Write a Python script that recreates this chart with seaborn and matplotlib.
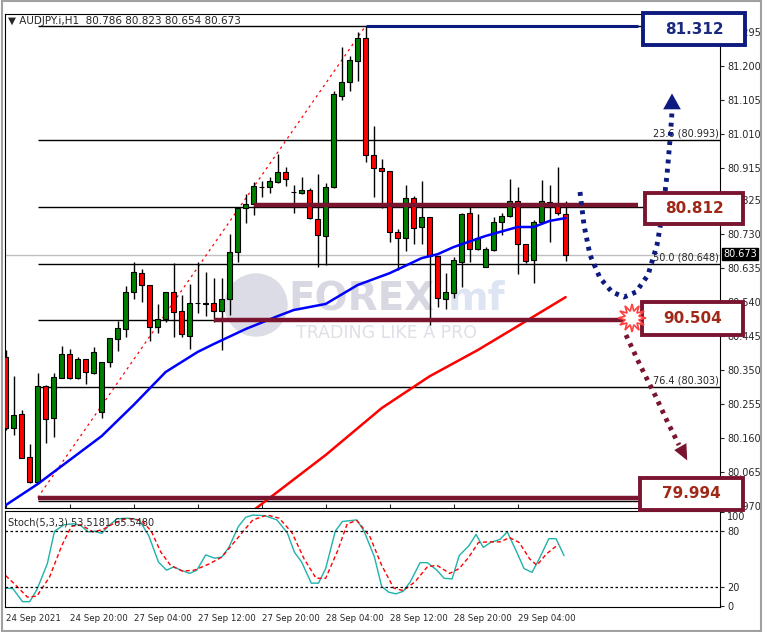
import numpy as np
import pandas as pd
import seaborn as sns
import matplotlib.pyplot as plt
from matplotlib.patches import Rectangle, Polygon, Ellipse

# Candle data, AUDJPY H1, one bar per hour starting 24 Sep 12:00
opens = [80.387, 80.188, 80.227, 80.107, 80.037, 80.306, 80.216, 80.328, 80.395, 80.328,
         80.381, 80.342, 80.233, 80.373, 80.437, 80.465, 80.568, 80.621, 80.588, 80.470,
         80.493, 80.568, 80.515, 80.445, 80.537, 80.537, 80.537, 80.515, 80.549, 80.680,
         80.803, 80.814, 80.861, 80.861, 80.876, 80.903, 80.848, 80.845, 80.853, 80.772,
         80.725, 80.861, 81.116, 81.155, 81.214, 81.278, 80.951, 80.915, 80.906, 80.736,
         80.719, 80.831, 80.750, 80.778, 80.669, 80.549, 80.565, 80.652, 80.789, 80.688,
         80.638, 80.686, 80.764, 80.781, 80.822, 80.702, 80.658, 80.764, 80.820, 80.817,
         80.786]
highs = [80.406, 80.333, 80.238, 80.143, 80.342, 80.308, 80.342, 80.417, 80.409, 80.387,
         80.381, 80.415, 80.373, 80.440, 80.487, 80.585, 80.652, 80.632, 80.588, 80.535,
         80.568, 80.649, 80.560, 80.591, 80.652, 80.624, 80.607, 80.607, 80.730, 80.806,
         80.842, 80.875, 80.878, 80.889, 80.954, 80.917, 80.867, 80.889, 80.859, 80.898,
         80.873, 81.130, 81.253, 81.228, 81.295, 81.312, 81.032, 80.940, 80.906, 80.744,
         80.867, 80.836, 80.878, 80.778, 80.669, 80.621, 80.666, 80.789, 80.806, 80.786,
         80.694, 80.778, 80.789, 80.884, 80.861, 80.702, 80.769, 80.881, 80.867, 80.917,
         80.823]
lows = [80.183, 80.169, 80.104, 80.035, 80.032, 80.146, 80.163, 80.328, 80.325, 80.325,
        80.311, 80.339, 80.216, 80.359, 80.403, 80.442, 80.549, 80.540, 80.431, 80.454,
        80.484, 80.442, 80.442, 80.409, 80.509, 80.501, 80.484, 80.406, 80.504, 80.652,
        80.761, 80.783, 80.834, 80.845, 80.873, 80.864, 80.789, 80.842, 80.772, 80.638,
        80.644, 80.859, 81.105, 81.130, 81.158, 80.931, 80.834, 80.803, 80.708, 80.630,
        80.683, 80.702, 80.702, 80.476, 80.526, 80.521, 80.551, 80.582, 80.652, 80.686,
        80.638, 80.683, 80.727, 80.778, 80.618, 80.649, 80.593, 80.761, 80.708, 80.783,
        80.654]
closes = [80.188, 80.225, 80.104, 80.037, 80.306, 80.213, 80.331, 80.395, 80.328, 80.381,
          80.345, 80.401, 80.373, 80.440, 80.468, 80.568, 80.624, 80.588, 80.470, 80.493,
          80.568, 80.512, 80.451, 80.537, 80.538, 80.535, 80.515, 80.549, 80.680, 80.803,
          80.814, 80.864, 80.862, 80.878, 80.903, 80.884, 80.847, 80.853, 80.775, 80.727,
          80.861, 81.121, 81.155, 81.216, 81.278, 80.951, 80.915, 80.906, 80.736, 80.719,
          80.831, 80.747, 80.778, 80.669, 80.551, 80.568, 80.658, 80.786, 80.688, 80.719,
          80.688, 80.764, 80.781, 80.822, 80.702, 80.655, 80.764, 80.822, 80.814, 80.789,
          80.673]

# moving averages (bar index, price)
ma_blue_bar = [0, 4, 8, 12, 16, 20, 24, 26, 30, 34, 36, 40, 44, 48, 52, 54, 56, 60, 64, 66, 68, 70]
ma_blue = [79.973, 80.032, 80.099, 80.166, 80.253, 80.345, 80.401, 80.423, 80.465, 80.501, 80.518,
           80.535, 80.588, 80.621, 80.663, 80.674, 80.694, 80.725, 80.750, 80.750, 80.767, 80.775]
ma_red_bar = [31, 40, 47, 53, 59, 64, 70]
ma_red = [79.959, 80.113, 80.244, 80.333, 80.406, 80.473, 80.554]

# fibonacci levels
fib_levels = [81.312, 80.993, 80.805, 80.648, 80.491, 80.303, 79.984]
fib_labels = {80.993: "23.6 (80.993)", 80.648: "50.0 (80.648)", 80.303: "76.4 (80.303)"}

# stochastic (5,3,3)
stoch_k_bar = [0, 0.9, 2.1, 3.0, 3.9, 5.2, 6.1, 7.3, 8.5, 9.4, 10.3, 11.2, 12, 12.8, 13.9, 15.2,
               16.7, 17.9, 19.1, 20.1, 21, 21.9, 23, 23.9, 25, 26.1, 27, 27.9, 29.1, 30, 30.9,
               32.4, 33.9, 35.2, 36.1, 37, 38.2, 39.1, 40, 41.2, 42.1, 43.9, 44.8, 46.1, 47,
               47.9, 48.8, 49.7, 50.6, 51.8, 52.7, 53.9, 54.8, 55.8, 56.7, 57.9, 58.8, 59.7,
               60.6, 61.8, 62.7, 63.9, 64.8, 65.8, 66.7, 67.9, 68.8, 69.8]
stoch_k = [19.3, 18.6, 4.7, 4.7, 17.6, 45.3, 80, 86.9, 88, 85.9, 79.3, 80, 77.6, 85.2, 93.2, 93.9,
           92.1, 74.8, 47, 38.4, 41.8, 38.4, 34.9, 38.4, 54.7, 51.2, 52.3, 62.7, 85.2, 94.9, 97.3,
           96.6, 92.1, 78.3, 57.5, 47, 24.5, 24.5, 40.1, 80, 90.4, 92.1, 80, 52.3, 21, 14.8,
           13.1, 15.8, 26.2, 46.4, 46.4, 38.4, 29.7, 29, 54, 64.4, 76.5, 62.7, 67.9, 71.3,
           79.3, 57.5, 40.1, 36, 50.5, 72, 72, 54]
stoch_d_bar = [0, 1.2, 2.7, 3.9, 5.5, 7, 8.2, 9.4, 10.9, 12.1, 13.6, 15.2, 17, 18.2, 19.4, 20.6,
               22.1, 23.6, 25.5, 27, 28.2, 29.7, 30.9, 32.7, 34.2, 35.8, 37.3, 38.8, 40, 41.5,
               42.7, 43.9, 45.5, 47, 48.5, 49.7, 51.2, 52.7, 53.9, 55.5, 56.7, 57.9, 59.1, 60.3,
               61.8, 63, 64.2, 65.5, 66.4, 67.6, 69.1]
stoch_d = [32.5, 22.8, 9.6, 10.6, 31.4, 64.4, 85.2, 86.9, 79.3, 81.7, 88.7, 93.9, 91.4, 80, 57.5,
           43.6, 37.3, 38.4, 45.3, 52.3, 64.4, 80, 92.1, 97.3, 93.9, 78.3, 50.5, 29.7, 29.7, 59.2,
           88, 91.4, 74.8, 43.6, 19.3, 16.5, 26.2, 41.8, 43.6, 34.9, 40.1, 52.3, 67.9, 68.6, 68.6,
           73.1, 67.9, 50.5, 43.6, 55.7, 66.1]

price_ticks = [79.970, 80.065, 80.160, 80.255, 80.350, 80.445, 80.540, 80.635, 80.730,
               80.825, 80.915, 81.010, 81.105, 81.200, 81.295]
time_ticks = [0, 8, 16, 24, 32, 40, 48, 56, 64]
time_labels = ["24 Sep 2021", "24 Sep 20:00", "27 Sep 04:00", "27 Sep 12:00", "27 Sep 20:00",
               "28 Sep 04:00", "28 Sep 12:00", "28 Sep 20:00", "29 Sep 04:00"]

last_price = 80.673
zones = [(81.312, 45, "#0d1a80"), (80.812, 31, "#7a1530"),
         (80.491, 26, "#7a1530"), (79.994, 4, "#7a1530")]

sns.set_style("white")
plt.rcParams['font.family'] = ['DejaVu Sans']

W, H = 763, 632
fig = plt.figure(figsize=(W / 100, H / 100), dpi=100)
fig.patch.set_facecolor("white")


def fx(px):
    return px / W


def fy(py):
    return 1 - py / H


XL = (-0.09, 89.3)
ax = fig.add_axes([fx(5), fy(508), fx(715), 494 / H])
ax2 = fig.add_axes([fx(5), fy(607), fx(715), 96 / H])
ax.patch.set_alpha(0)

ax.set_xlim(*XL)
ax.set_ylim(79.965, 81.345)

idx = np.arange(len(opens))
o, h, l, c = map(np.array, (opens, highs, lows, closes))
ax.vlines(idx, l, h, color="black", lw=1, zorder=3)
up = c >= o
body_h = np.maximum(np.abs(c - o), 0.0015)
ax.bar(idx, body_h, bottom=np.minimum(o, c), width=0.62,
       color=np.where(up, "#008000", "#ff0000"), edgecolor="black", lw=0.8, zorder=4)

# watermark
fig.patches.append(Ellipse((fx(256), fy(305)), 62 / W, 62 / H, transform=fig.transFigure,
                           color="#dcdce6", zorder=-1))
fig.text(fx(288), fy(299), "FOREX", fontsize=28, fontweight="bold", color="#d8d8e2",
         va="center", zorder=-1)
fig.text(fx(448), fy(299), "mf", fontsize=28, fontweight="bold", color="#dde4f2",
         va="center", zorder=-1)
fig.text(fx(296), fy(333), "TRADING LIKE A PRO", fontsize=12.5, color="#dfdfe7",
         va="center", zorder=-1)

# fib lines
for lv in fib_levels:
    ax.hlines(lv, 4, XL[1], color="black", lw=1, zorder=2)
    if lv in fib_labels:
        ax.text(89.1, lv + 0.004, fib_labels[lv], ha="right", va="bottom", fontsize=7, zorder=5)
ax.plot([4, 45], [79.994, 81.312], ls=(0, (2, 3)), color="red", lw=0.9, zorder=2)
ax.axhline(last_price, color="#c0c0c0", lw=1, zorder=1)

sns.lineplot(x=ma_blue_bar, y=ma_blue, ax=ax, color="#0000ff", lw=1.8, zorder=5)
sns.lineplot(x=ma_red_bar, y=ma_red, ax=ax, color="#ff0000", lw=1.8, zorder=5)

for lv, start, col in zones:
    ax.hlines(lv, start, 79.0, color=col, lw=3.2 if col != "#0d1a80" else 2.2, zorder=6)

ax.yaxis.tick_right()
ax.set_yticks(price_ticks)
ax.set_yticklabels([f"{t:.3f}" for t in price_ticks], fontsize=7)
ax.tick_params(axis="y", length=3, pad=2, direction="out", right=True)
ax.set_xticks(time_ticks)
ax.tick_params(axis="x", length=3, bottom=True, labelbottom=False, direction="in")
for s in ax.spines.values():
    s.set_color("black")
    s.set_linewidth(0.8)
ax.text(0.004, 0.995, "\u25bc AUDJPY.i,H1  80.786 80.823 80.654 80.673", transform=ax.transAxes,
        fontsize=7.5, va="top", ha="left")

# current price tag
fig.text(fx(723), fy(254), "80.673", fontsize=7, color="white", va="center", ha="left",
         bbox=dict(boxstyle="square,pad=0.15", fc="black", ec="black"), zorder=10)

# stochastic panel
ax2.set_xlim(*XL)
ax2.set_ylim(-1, 101.6)
sns.lineplot(x=stoch_k_bar, y=stoch_k, ax=ax2, color="#20b2aa", lw=1)
sns.lineplot(x=stoch_d_bar, y=stoch_d, ax=ax2, color="red", lw=1, ls=(0, (3, 2)))
for lv in (80, 20):
    ax2.axhline(lv, color="black", lw=0.9, ls=(0, (2, 2)))
ax2.yaxis.tick_right()
ax2.set_yticks([0, 20, 80, 100])
ax2.set_yticklabels(["0", "20", "80", "100"], fontsize=7)
ax2.get_yticklabels()[-1].set_va("top")
ax2.tick_params(axis="y", length=3, pad=2)
ax2.set_xticks(time_ticks)
ax2.set_xticklabels(time_labels, fontsize=6.2, ha="left")
ax2.tick_params(axis="x", length=3, pad=2)
for s in ax2.spines.values():
    s.set_color("black")
    s.set_linewidth(0.8)
ax2.text(0.004, 0.93, "Stoch(5,3,3) 53.5181 65.5480", transform=ax2.transAxes, fontsize=7,
         va="top")

# annotation boxes
boxes = [(643, 13, 102, 32, "81.312", "#0d1a80", "#1a2a80"),
         (645, 193, 98, 31, "80.812", "#7a1530", "#a02818"),
         (642, 302, 101, 33, "90.504", "#7a1530", "#a02818"),
         (640, 478, 103, 32, "79.994", "#7a1530", "#a02818")]
for bx, by, bw, bh, txt, ec, tc in boxes:
    fig.patches.append(Rectangle((fx(bx), fy(by + bh)), bw / W, bh / H, transform=fig.transFigure,
                                 fc="white", ec=ec, lw=2.8, zorder=10))
    fig.text(fx(bx + bw / 2), fy(by + bh / 2), txt, fontsize=11, fontweight="bold", color=tc,
             ha="center", va="center", zorder=11)

# projected paths
navy_x = [580, 584, 590, 600, 612, 624, 636, 648, 657, 663, 667, 670, 672]
navy_y = [192, 225, 255, 278, 292, 297, 292, 275, 245, 210, 175, 140, 112]
fig.add_artist(plt.Line2D([fx(v) for v in navy_x], [fy(v) for v in navy_y], color="#0d1a80",
                          lw=3.5, ls=(0, (0.8, 1.1)), transform=fig.transFigure, zorder=9))
fig.patches.append(Polygon([(fx(662), fy(110)), (fx(682), fy(110)), (fx(672), fy(92))],
                           transform=fig.transFigure, fc="#0d1a80", zorder=9))
mar_x = [626, 640, 655, 668, 679]
mar_y = [335, 365, 395, 423, 445]
fig.add_artist(plt.Line2D([fx(v) for v in mar_x], [fy(v) for v in mar_y], color="#7a1530",
                          lw=3.5, ls=(0, (0.8, 1.1)), transform=fig.transFigure, zorder=9))
fig.patches.append(Polygon([(fx(688), fy(462)), (fx(687), fy(442)), (fx(673), fy(450))],
                           transform=fig.transFigure, fc="#7a1530", zorder=9))
ang = np.linspace(0, 2 * np.pi, 25)[:-1]
rad = np.where(np.arange(24) % 2 == 0, 14, 7)
star = [(fx(632 + r * np.cos(a)), fy(318 + r * np.sin(a))) for r, a in zip(rad, ang)]
fig.patches.append(Polygon(star, transform=fig.transFigure, fc="white", ec="#ff4040", lw=1.2,
                           zorder=12))

# window frame
fig.patches.append(Rectangle((0.002, 0.002), 0.996, 0.996, transform=fig.transFigure,
                             fill=False, ec="#a0a0a0", lw=1.5, zorder=0))

fig.savefig("out.png", dpi=100)
